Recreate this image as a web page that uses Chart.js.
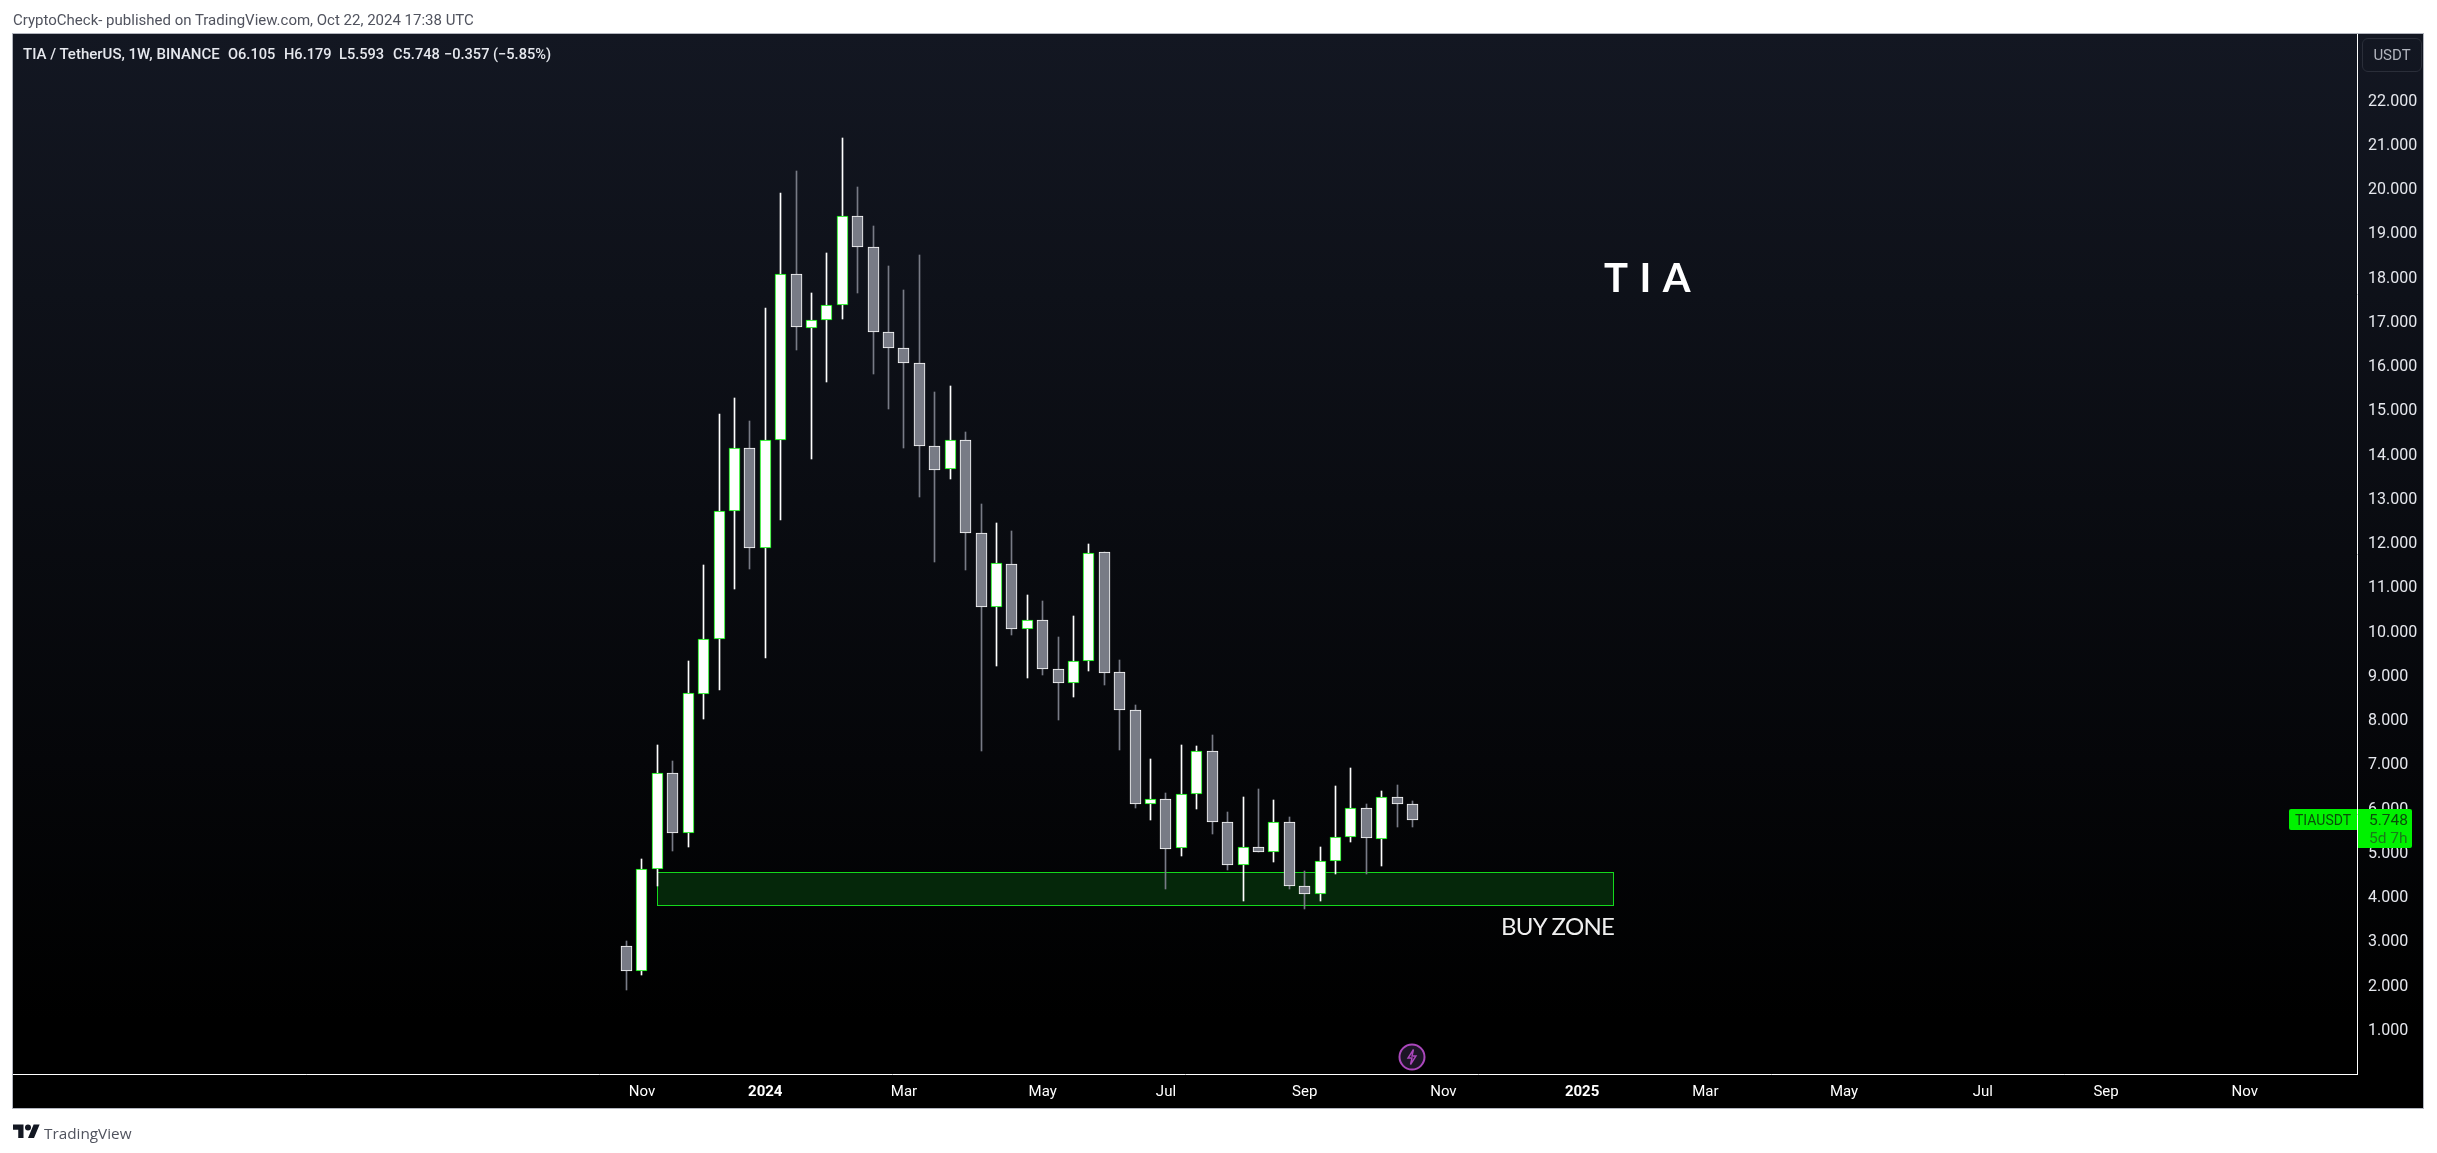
<!DOCTYPE html>
<html>
<head>
<meta charset="utf-8">
<title>TIA / TetherUS</title>
<script src="https://cdn.jsdelivr.net/npm/chart.js"></script>
<style>
  html, body { margin: 0; padding: 0; background: #fff; width: 2437px; height: 1153px; overflow: hidden; }
  canvas { position: absolute; left: 0; top: 0; }
  .txt { position: absolute; white-space: pre; font-family: Roboto, sans-serif; line-height: 1; }
  .hdr { font-size: 15px; color: #50535e; }
  .leg { font-size: 14.6px; font-weight: 500; color: #e6e8ee; }
</style>
</head>
<body>
<canvas id="chart" width="2437" height="1153"></canvas>

<div class="txt hdr" style="left:13px;top:13px">CryptoCheck- published on TradingView.com, Oct 22, 2024 17:38 UTC</div>
<div class="txt leg" style="left:23px;top:47px;font-size:15px">TIA / TetherUS, 1W, BINANCE</div>
<div class="txt leg" style="left:228px;top:47px">O6.105</div>
<div class="txt leg" style="left:284px;top:47px">H6.179</div>
<div class="txt leg" style="left:339px;top:47px">L5.593</div>
<div class="txt leg" style="left:393px;top:47px">C5.748</div>
<div class="txt leg" style="left:444px;top:47px">−0.357 (−5.85%)</div>

<div class="txt" style="left:1604px;top:253px;font:700 40px Lato,sans-serif;color:#fff;word-spacing:3px">T I A</div>
<div class="txt" style="left:1501px;top:911px;font:24px Lato,sans-serif;color:#f0f0f0;letter-spacing:-0.7px">BUY ZONE</div>

<div class="txt" style="left:2362px;top:38px;width:58px;height:32px;border:1px solid #2a2e39;border-radius:6px;font-size:15px;line-height:32px;text-align:center;color:#b2b5be">USDT</div>

<svg style="position:absolute;left:1398px;top:1043px" width="28" height="28" viewBox="0 0 28 28">
  <circle cx="14" cy="14" r="12.5" fill="#1c1526" stroke="#ab47bc" stroke-width="2"/>
  <path d="M15.5 6.5 L10 15 H14 L12.5 21.5 L18 13 H14 Z" fill="none" stroke="#ab47bc" stroke-width="1.4"/>
</svg>

<svg style="position:absolute;left:13px;top:1123px" width="27" height="15" viewBox="0 2 36 20">
  <path fill="#131722" d="M14 22H7V11H0V4h14v18zM28 22h-8l7.5-18h8L28 22z"/>
  <circle fill="#131722" cx="20" cy="8" r="4"/>
</svg>
<div class="txt" style="left:44px;top:1123px;font:15.3px 'Open Sans',sans-serif;color:#50535e">TradingView</div>

<script>
// weekly candles, one entry per week starting Oct 30 2023
const opens = [
  2.89, 2.32, 4.63, 6.80, 5.44, 8.59, 9.83, 12.72, 14.14, 11.88,
  14.33, 18.08, 16.86, 17.04, 17.38, 19.39, 18.69, 16.77, 16.40, 16.07,
  14.19, 13.67, 14.33, 12.22, 10.56, 11.52, 10.05, 10.26, 9.15, 8.83,
  9.33, 11.79, 9.08, 8.22, 6.10, 6.21, 5.10, 6.33, 7.30, 5.69,
  4.72, 5.13, 5.01, 5.69, 4.25, 4.07, 4.81, 5.35, 6.01, 5.31,
  6.26, 6.105
];
const highs = [
  3.01, 4.86, 7.44, 7.08, 9.34, 11.51, 14.92, 15.28, 14.76, 17.32,
  19.91, 20.41, 17.65, 18.56, 21.16, 20.05, 19.17, 18.26, 17.72, 18.51,
  15.42, 15.55, 14.51, 12.89, 12.46, 12.28, 10.83, 10.69, 9.88, 10.35,
  11.98, 11.80, 9.36, 8.34, 7.12, 6.35, 7.44, 7.42, 7.67, 5.93,
  6.26, 6.45, 6.20, 5.81, 4.58, 5.13, 6.51, 6.92, 6.11, 6.40,
  6.54, 6.179
];
const lows = [
  1.90, 2.24, 4.24, 5.03, 5.14, 8.03, 8.68, 10.97, 11.42, 9.39,
  12.51, 16.37, 13.89, 15.63, 17.07, 17.64, 15.83, 15.02, 14.14, 13.03,
  11.56, 13.44, 11.38, 7.31, 9.23, 9.91, 8.94, 9.01, 8.01, 8.53,
  9.10, 8.78, 7.33, 6.02, 5.75, 4.17, 4.92, 6.00, 5.43, 4.60,
  3.92, 5.01, 4.78, 4.19, 3.74, 3.90, 4.51, 5.25, 4.53, 4.71,
  5.59, 5.593
];
const closes = [
  2.32, 4.63, 6.80, 5.44, 8.61, 9.83, 12.72, 14.14, 11.88, 14.33,
  18.08, 16.88, 17.04, 17.38, 19.39, 18.69, 16.77, 16.40, 16.07, 14.19,
  13.65, 14.33, 12.22, 10.56, 11.55, 10.05, 10.26, 9.15, 8.83, 9.33,
  11.77, 9.06, 8.22, 6.10, 6.21, 5.08, 6.33, 7.30, 5.69, 4.72,
  5.13, 5.01, 5.69, 4.25, 4.07, 4.81, 5.35, 6.01, 5.33, 6.26,
  6.105, 5.748
];

const weekTicks = [1, 9, 18, 27, 35, 44, 53, 62, 70, 79, 88, 96, 105];
const weekLabels = ['Nov', '2024', 'Mar', 'May', 'Jul', 'Sep', 'Nov', '2025', 'Mar', 'May', 'Jul', 'Sep', 'Nov'];
const priceTicks = [1, 2, 3, 4, 5, 6, 7, 8, 9, 10, 11, 12, 13, 14, 15, 16, 17, 18, 19, 20, 21, 22];

const zoneWeeks = [2, 64];
const zonePrices = [3.82, 4.56];
const symbolLabel = 'TIAUSDT';
const countdownLabel = '5d 7h';

const UP_BORDER = '#00e600';
const UP_FILL = '#ffffff';
const DOWN_BORDER = '#ffffff';
const DOWN_FILL = '#787b86';

const isUp = closes.map((c, i) => c >= opens[i]);

const framePlugin = {
  id: 'frame',
  beforeDraw(chart) {
    const ctx = chart.ctx;
    const grad = ctx.createLinearGradient(0, 34, 0, 1020);
    grad.addColorStop(0, '#131722');
    grad.addColorStop(1, '#000000');
    ctx.fillStyle = grad;
    ctx.fillRect(13, 34, 2410, 1074);
    ctx.strokeStyle = '#b2b5be';
    ctx.lineWidth = 1;
    ctx.strokeRect(12.5, 33.5, 2411, 1075);
    // buy zone sits under the candles
    const x = chart.scales.x, y = chart.scales.y;
    const left = Math.round(x.getPixelForValue(zoneWeeks[0])) + 0.5;
    const right = Math.round(x.getPixelForValue(zoneWeeks[1])) + 0.5;
    const top = Math.round(y.getPixelForValue(zonePrices[1])) + 0.5;
    const bottom = Math.round(y.getPixelForValue(zonePrices[0])) + 0.5;
    ctx.fillStyle = '#05270a';
    ctx.fillRect(left, top, right - left, bottom - top);
    ctx.strokeStyle = '#14d81c';
    ctx.strokeRect(left, top, right - left, bottom - top);
  }
};

// keep candles on whole pixels like the original
const snapPlugin = {
  id: 'snap',
  afterDatasetsUpdate(chart) {
    chart.data.datasets.forEach((ds, i) => {
      chart.getDatasetMeta(i).data.forEach(el => {
        el.x = Math.floor(el.x) + 0.5;
        el.y = Math.round(el.y);
        el.base = Math.round(el.base);
      });
    });
  }
};

const priceLabelPlugin = {
  id: 'priceLabel',
  afterDraw(chart) {
    const ctx = chart.ctx;
    const last = closes[closes.length - 1];
    const py = Math.round(chart.scales.y.getPixelForValue(last));
    const axisX = chart.chartArea.right;
    ctx.save();
    ctx.fillStyle = '#00f200';
    ctx.beginPath();
    ctx.roundRect(2289, py - 11, axisX - 2289, 21, [2, 0, 0, 2]);
    ctx.fill();
    ctx.beginPath();
    ctx.roundRect(axisX + 1, py - 11, 54, 39, [0, 2, 2, 0]);
    ctx.fill();
    ctx.textBaseline = 'middle';
    ctx.fillStyle = '#0a4d0a';
    ctx.font = '14px Roboto, sans-serif';
    ctx.fillText(symbolLabel, 2295, py + 1);
    ctx.font = '15.5px Roboto, sans-serif';
    ctx.fillText(last.toFixed(3), 2369, py + 1);
    ctx.fillStyle = '#1a7a1a';
    ctx.fillText(countdownLabel, 2369, py + 19);
    ctx.restore();
  }
};

new Chart(document.getElementById('chart').getContext('2d'), {
  type: 'bar',
  data: {
    datasets: [
      {
        label: 'body',
        data: opens.map((o, i) => ({ x: i, y: [o, closes[i]] })),
        backgroundColor: isUp.map(u => u ? UP_FILL : DOWN_FILL),
        borderColor: isUp.map(u => u ? UP_BORDER : DOWN_BORDER),
        borderWidth: 1,
        borderSkipped: false,
        barThickness: 11,
        grouped: false,
        order: 1
      },
      {
        label: 'wick',
        data: lows.map((l, i) => ({ x: i, y: [l, highs[i]] })),
        backgroundColor: isUp.map(u => u ? UP_FILL : DOWN_FILL),
        borderWidth: 0,
        barThickness: 1,
        grouped: false,
        order: 2
      }
    ]
  },
  options: {
    responsive: false,
    animation: false,
    events: [],
    layout: { padding: { left: 13, top: 34, right: 14, bottom: 45 } },
    plugins: { legend: { display: false }, tooltip: { enabled: false } },
    scales: {
      x: {
        type: 'linear',
        offset: false,
        min: -39.81,
        max: 112.28,
        grid: { display: false, drawTicks: false, offset: false },
        border: { display: true, color: '#ffffff', width: 1 },
        afterBuildTicks: s => { s.ticks = weekTicks.map(v => ({ value: v })); },
        afterFit: s => { s.height = 34; },
        ticks: {
          autoSkip: false,
          maxRotation: 0,
          padding: 9,
          color: '#ffffff',
          font: c => ({ family: 'Roboto, sans-serif', size: 15, weight: ['2024', '2025'].includes(weekLabels[c.index]) ? '700' : '400' }),
          callback: v => weekLabels[weekTicks.indexOf(v)]
        }
      },
      y: {
        type: 'linear',
        position: 'right',
        min: 0,
        max: 23.503,
        grid: { display: false, drawTicks: false },
        border: { display: true, color: '#ffffff', width: 1 },
        afterBuildTicks: s => { s.ticks = priceTicks.map(v => ({ value: v })); },
        afterFit: s => { s.width = 66; },
        ticks: {
          autoSkip: false,
          padding: 11,
          labelOffset: 1,
          crossAlign: 'near',
          color: '#e6e8ee',
          font: { family: 'Roboto, sans-serif', size: 16 },
          callback: v => v.toFixed(3)
        }
      }
    }
  },
  plugins: [framePlugin, snapPlugin, priceLabelPlugin]
});
</script>
</body>
</html>
